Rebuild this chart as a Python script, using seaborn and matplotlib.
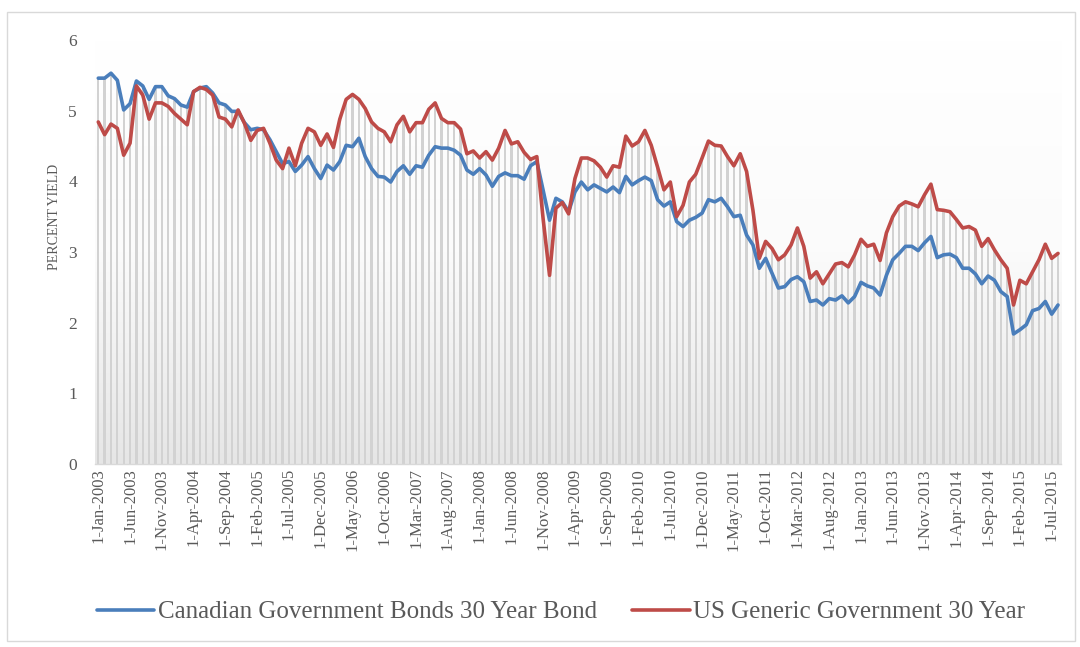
import numpy as np
import pandas as pd
import matplotlib
matplotlib.use("Agg")
import matplotlib.pyplot as plt
import seaborn as sns
from matplotlib.patches import Rectangle
from matplotlib.colors import LinearSegmentedColormap

# ---------------- data ----------------
months = pd.date_range("2003-01-01", periods=152, freq="MS")
month_labels = [f"{d.day}-{d.strftime('%b-%Y')}" for d in months]

canada = [
    5.46, 5.46, 5.53, 5.43, 5.01, 5.10, 5.42, 5.35, 5.16, 5.34,
    5.34, 5.21, 5.17, 5.08, 5.05, 5.27, 5.32, 5.34, 5.25, 5.11,
    5.08, 4.99, 4.99, 4.83, 4.73, 4.75, 4.73, 4.59, 4.42, 4.25,
    4.28, 4.14, 4.23, 4.35, 4.18, 4.04, 4.23, 4.16, 4.28, 4.51,
    4.49, 4.61, 4.35, 4.18, 4.07, 4.06, 3.99, 4.14, 4.22, 4.10,
    4.22, 4.20, 4.37, 4.49, 4.47, 4.47, 4.44, 4.37, 4.16, 4.10,
    4.18, 4.09, 3.93, 4.07, 4.12, 4.08, 4.08, 4.03, 4.22, 4.28,
    3.87, 3.45, 3.76, 3.71, 3.57, 3.85, 3.99, 3.88, 3.95, 3.90,
    3.85, 3.92, 3.84, 4.07, 3.95, 4.01, 4.06, 4.01, 3.74, 3.65,
    3.71, 3.43, 3.36, 3.45, 3.49, 3.55, 3.74, 3.71, 3.76, 3.64,
    3.50, 3.52, 3.24, 3.10, 2.77, 2.91, 2.70, 2.49, 2.51, 2.61,
    2.65, 2.58, 2.30, 2.32, 2.25, 2.34, 2.32, 2.38, 2.28, 2.37,
    2.57, 2.52, 2.49, 2.39, 2.67, 2.89, 2.98, 3.08, 3.08, 3.02,
    3.13, 3.22, 2.92, 2.96, 2.97, 2.92, 2.77, 2.77, 2.69, 2.55,
    2.66, 2.60, 2.44, 2.37, 1.84, 1.90, 1.97, 2.17, 2.20, 2.30,
    2.12, 2.25,
]

us = [
    4.84, 4.66, 4.81, 4.75, 4.37, 4.54, 5.35, 5.22, 4.88, 5.11,
    5.11, 5.06, 4.96, 4.88, 4.80, 5.27, 5.33, 5.30, 5.22, 4.91,
    4.88, 4.77, 5.01, 4.82, 4.58, 4.72, 4.75, 4.54, 4.30, 4.18,
    4.47, 4.22, 4.54, 4.75, 4.70, 4.51, 4.67, 4.48, 4.88, 5.16,
    5.23, 5.16, 5.03, 4.84, 4.75, 4.70, 4.56, 4.80, 4.92, 4.70,
    4.83, 4.83, 5.02, 5.11, 4.89, 4.83, 4.83, 4.74, 4.39, 4.43,
    4.33, 4.42, 4.30, 4.47, 4.72, 4.53, 4.56, 4.41, 4.31, 4.35,
    3.46, 2.67, 3.62, 3.70, 3.54, 4.04, 4.33, 4.33, 4.29, 4.20,
    4.06, 4.22, 4.20, 4.64, 4.50, 4.56, 4.72, 4.51, 4.20, 3.88,
    3.99, 3.50, 3.66, 3.99, 4.10, 4.33, 4.57, 4.51, 4.50, 4.35,
    4.22, 4.39, 4.14, 3.59, 2.91, 3.15, 3.05, 2.89, 2.96, 3.10,
    3.34, 3.08, 2.63, 2.72, 2.55, 2.69, 2.83, 2.85, 2.79, 2.96,
    3.18, 3.08, 3.11, 2.88, 3.27, 3.50, 3.65, 3.71, 3.68, 3.64,
    3.81, 3.96, 3.60, 3.59, 3.57, 3.46, 3.34, 3.36, 3.31, 3.08,
    3.19, 3.03, 2.89, 2.77, 2.25, 2.60, 2.55, 2.72, 2.89, 3.11,
    2.91, 2.98,
]

series_names = ["Canadian Government Bonds 30 Year Bond", "US Generic Government 30 Year"]
y_ticks = [0, 1, 2, 3, 4, 5, 6]
y_title = "PERCENT YIELD"

# ---------------- style ----------------
sns.set_theme(style="white")
plt.rcParams["font.family"] = ["Liberation Serif", "DejaVu Serif"]

W, H = 1080, 647
fig = plt.figure(figsize=(W / 100, H / 100), dpi=100)
ax = fig.add_axes([95.1 / W, 183 / H, 966.1 / W, 424 / H])

n = len(months)
idx = np.arange(n)

# background gradient of the plot area
grad = LinearSegmentedColormap.from_list("g", ["#ffffff", "#fbfbfb", "#e6e6e6"])
ax.imshow(np.linspace(0, 1, 256).reshape(-1, 1), extent=(-0.5, n - 0.5, 0, 6),
          aspect="auto", cmap=grad, origin="upper", zorder=0)

# thin vertical stripes up to the higher of the two series
df = pd.DataFrame({"idx": idx, "top": np.maximum(canada, us)})
sns.barplot(data=df, x="idx", y="top", color="#d2d2d2", width=0.36,
            saturation=1, ax=ax, zorder=1, edgecolor="none", linewidth=0)

sns.lineplot(x=idx, y=canada, color="#4a7ebb", lw=2.6, ax=ax,
             label=series_names[0], zorder=3)
sns.lineplot(x=idx, y=us, color="#be4b48", lw=2.6, ax=ax,
             label=series_names[1], zorder=4)

ax.set_xlim(-0.5, n - 0.5)
ax.set_ylim(0, 6)
ax.set_yticks(y_ticks)
ax.set_yticklabels([str(t) for t in y_ticks])
ax.set_xticks(idx[::5])
ax.set_xticklabels(month_labels[::5], rotation=90)
ax.set_xlabel("")
ax.set_ylabel("")

for s in ["left", "right", "top"]:
    ax.spines[s].set_visible(False)
ax.spines["bottom"].set_color("#d9d9d9")
ax.spines["bottom"].set_linewidth(1.0)
ax.spines["bottom"].set_zorder(5)

ax.tick_params(axis="y", length=0, pad=13, labelsize=12.5, labelcolor="#595959")
ax.tick_params(axis="x", length=0, pad=3, labelsize=12, labelcolor="#595959")

handles, labels = ax.get_legend_handles_labels()
ax.get_legend().remove()
fig.legend(handles, labels, loc="center", bbox_to_anchor=(561 / W, 1 - 612 / H),
           ncol=2, frameon=False, fontsize=18, handlelength=2.3,
           handletextpad=0.15, columnspacing=1.4, labelcolor="#595959")

fig.text(55 / W, 1 - 217 / H, y_title, rotation=90, va="center", ha="center",
         fontsize=10, color="#595959")

fig.add_artist(Rectangle((7 / W, 1 - 641 / H), (1075 - 7) / W, (641 - 12) / H,
                         transform=fig.transFigure, fill=False,
                         edgecolor="#d9d9d9", lw=1.0))

fig.savefig("out.png", dpi=100)
